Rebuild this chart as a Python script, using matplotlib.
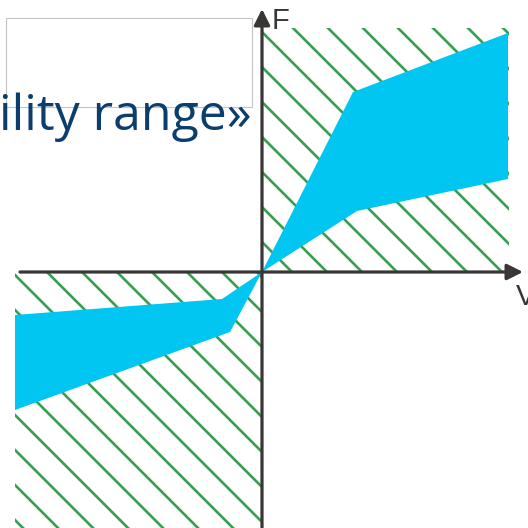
import numpy as np
import matplotlib
matplotlib.use("Agg")
import matplotlib.pyplot as plt
from matplotlib.patches import Polygon, Rectangle

# Force F versus velocity V: admissible bands in the first and third quadrants
upper_band_v = [0.0, 9.1, 24.6, 24.6, 9.5]
upper_band_f = [0.0, 18.0, 23.9, 9.3, 6.1]
lower_band_v = [0.0, -4.0, -24.7, -24.7, -3.2]
lower_band_f = [0.0, -2.7, -4.3, -13.8, -6.0]

# Hatched (excluded) zones: (v_min, v_max, f_min, f_max)
hatch_zones = [(0.0, 24.7, 0.0, 24.4), (-24.7, 0.0, -25.6, 0.0)]

title_text = "ility range\u00bb"
axis_labels = ("F", "V")

BLUE = "#00c6f1"
GREEN = "#389f52"
AXIS = "#3b3636"
TEXT = "#0b3d6d"

fig = plt.figure(figsize=(5.28, 5.28), dpi=100)
ax = fig.add_axes([0, 0, 1, 1])
ax.set_xlim(-26.2, 26.6)
ax.set_ylim(-25.6, 27.2)
ax.axis("off")

# diagonal hatching clipped to each zone
for v0, v1, f0, f1 in hatch_zones:
    clip = Rectangle((v0, f0), v1 - v0, f1 - f0, fill=False, lw=0, transform=ax.transData)
    ax.add_patch(clip)
    for c in np.arange(-60, 60, 3.5):
        v = np.array([-30, 30])
        line, = ax.plot(v, c - v, color=GREEN, lw=1.9, zorder=1, solid_capstyle="butt")
        line.set_clip_path(clip)

ax.add_patch(Polygon(list(zip(upper_band_v, upper_band_f)), closed=True,
                     facecolor=BLUE, edgecolor="none", zorder=2))
ax.add_patch(Polygon(list(zip(lower_band_v, lower_band_f)), closed=True,
                     facecolor=BLUE, edgecolor="none", zorder=2))

# axes with arrowheads
ax.annotate("", xy=(0, 26.3), xytext=(0, -25.6),
            arrowprops=dict(arrowstyle="-|>", lw=2.3, color=AXIS, mutation_scale=24,
                            shrinkA=0, shrinkB=0), zorder=3)
ax.annotate("", xy=(26.1, 0), xytext=(-24.2, 0),
            arrowprops=dict(arrowstyle="-|>", lw=2.3, color=AXIS, mutation_scale=24,
                            shrinkA=0, shrinkB=0), zorder=3)
ax.text(1.0, 24.3, axis_labels[0], fontsize=21, color=AXIS, family="Liberation Sans",
        ha="left", va="baseline", zorder=4)
ax.text(25.4, -3.3, axis_labels[1], fontsize=21, color=AXIS, family="Liberation Sans",
        ha="left", va="baseline", zorder=4)

# caption box and text
ax.add_patch(Rectangle((-25.6, 16.5), 24.6, 8.9, fill=False, edgecolor="#c4c4c4", lw=0.8, zorder=4))
ax.text(-1.0, 14.2, title_text, fontsize=36, color=TEXT, family="Open Sans",
        ha="right", va="baseline", zorder=5)

fig.savefig("out.png", dpi=100)
